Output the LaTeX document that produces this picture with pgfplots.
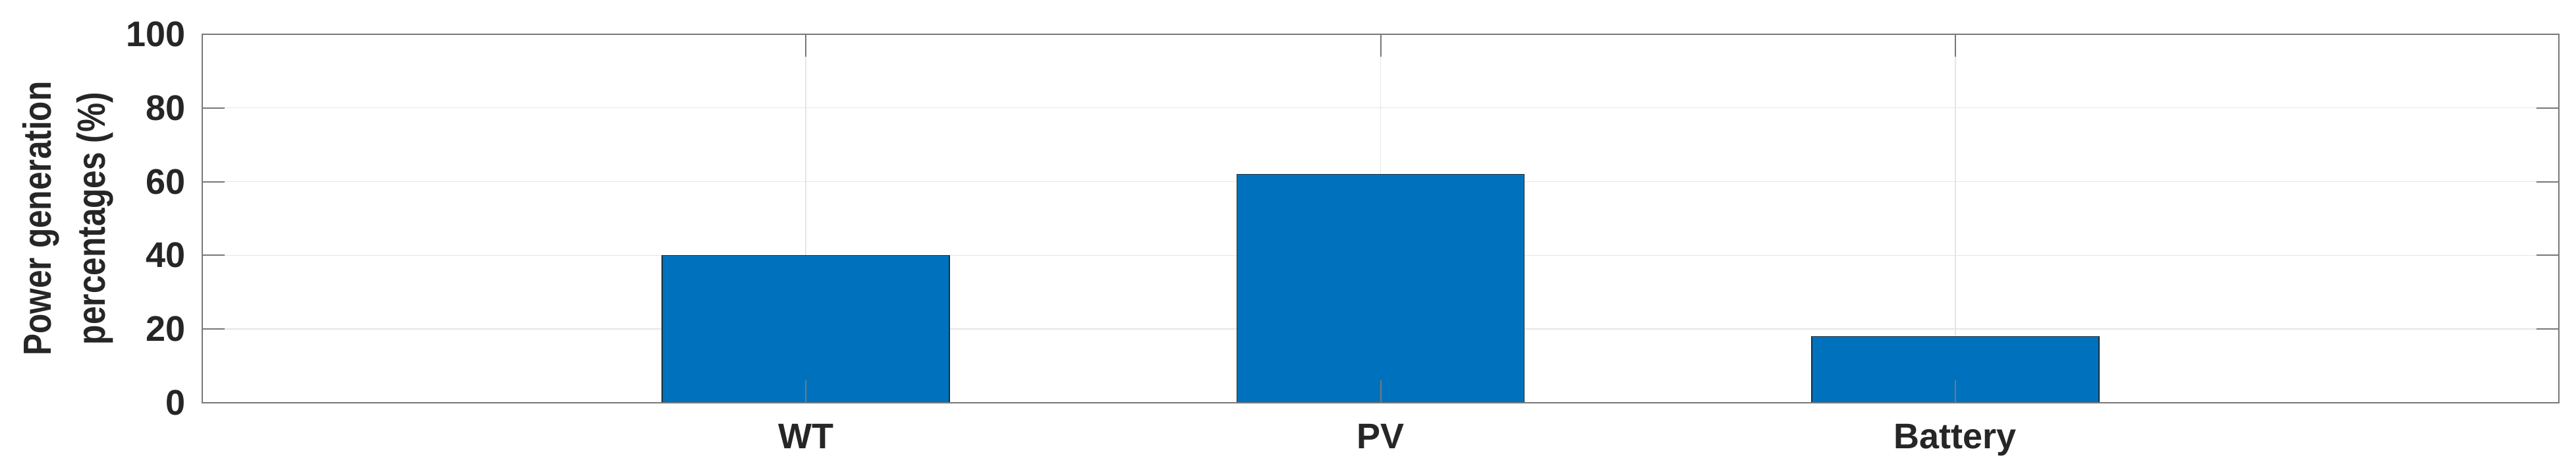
\documentclass[border=0pt]{standalone}
\usepackage{fontspec}
\setmainfont{Liberation Sans}
\usepackage{graphicx}
\usepackage{pgfplots}
\pgfplotsset{compat=1.18}
\definecolor{barblue}{HTML}{0072BD}
\definecolor{txt}{HTML}{262626}
\definecolor{axgray}{HTML}{787878}
\definecolor{gridgray}{HTML}{E6E6E6}
\definecolor{baredge}{HTML}{1E2D3A}
\begin{document}
\begin{tikzpicture}
\useasboundingbox (-76.75pt,-26.25pt) rectangle (900.75pt,152.75pt);
% background grid
\begin{axis}[
  at={(0,0)}, anchor=south west,
  width=894.25pt, height=139.75pt, scale only axis,
  xmin=-0.05, xmax=4.05, ymin=0, ymax=100,
  xtick={1,2,3}, ytick={0,20,40,60,80,100},
  xticklabels={}, yticklabels={},
  grid=major, major grid style={gridgray, line width=0.35pt},
  axis line style={draw=none}, tick style={draw=none},
]
\end{axis}
% bars and frame
\begin{axis}[
  at={(0,0)}, anchor=south west,
  width=894.25pt, height=139.75pt, scale only axis,
  xmin=-0.05, xmax=4.05, ymin=0, ymax=100,
  xtick={1,2,3}, xticklabels={WT,PV,Battery},
  ytick={0,20,40,60,80,100},
  axis on top,
  axis line style={axgray, line width=0.5pt},
  tick style={axgray, line width=0.5pt},
  tick align=inside, xtick pos=both, ytick pos=both,
  major tick length=8.5pt,
  xticklabel pos=lower, yticklabel pos=left,
  ticklabel style={font=\bfseries\fontsize{13.5}{16}\selectfont, text=txt},
  /pgf/number format/assume math mode=true,
  yticklabel style={inner sep=0pt, xshift=-6.25pt},
  xticklabel style={inner sep=0pt, anchor=north, yshift=-8pt},
  ylabel={\scalebox{1}[1.2]{Power generation}\\\scalebox{1}[1.2]{percentages (\%)}},
  ylabel style={font=\bfseries\fontsize{12.4}{20.5}\selectfont, text=txt, align=center,
    at={(axis description cs:-0.0375,0.5)}, anchor=south, inner sep=0pt},
]
\addplot[ybar, bar width=0.5, bar shift=0pt, fill=barblue, draw=baredge, line width=0.4pt]
  coordinates {(1,40) (2,62) (3,18)};
\end{axis}
\end{tikzpicture}
\end{document}
